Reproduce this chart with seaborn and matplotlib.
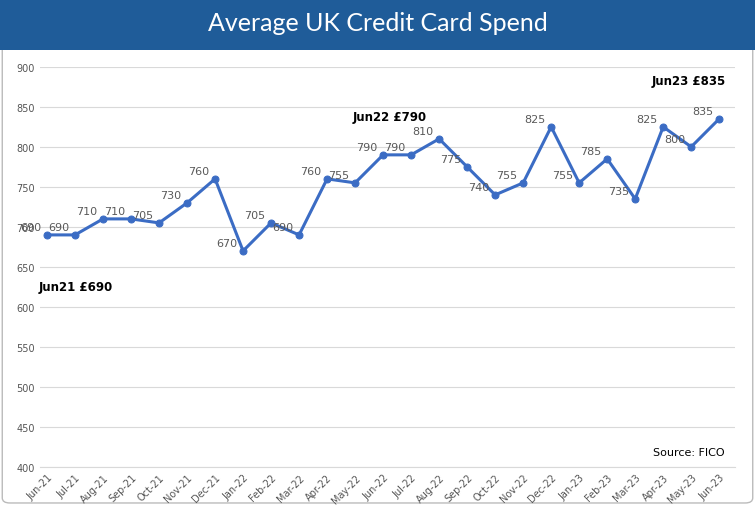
import matplotlib
matplotlib.use("Agg")
import matplotlib.pyplot as plt
import seaborn as sns
import pandas as pd
from matplotlib.patches import FancyBboxPatch, Rectangle

months = ["Jun-21","Jul-21","Aug-21","Sep-21","Oct-21","Nov-21","Dec-21","Jan-22","Feb-22","Mar-22",
          "Apr-22","May-22","Jun-22","Jul-22","Aug-22","Sep-22","Oct-22","Nov-22","Dec-22","Jan-23",
          "Feb-23","Mar-23","Apr-23","May-23","Jun-23"]
spend = [690,690,710,710,705,730,760,670,705,690,760,755,790,790,810,775,740,755,825,755,785,735,825,800,835]
callouts = {0: "Jun21 £690", 12: "Jun22 £790", 24: "Jun23 £835"}

df = pd.DataFrame({"x": range(len(months)), "spend": spend})
fig = plt.figure(figsize=(7.55, 5.06), dpi=100)
fig.patches.append(FancyBboxPatch((0.003, 0.004), 0.994, 0.99, boxstyle="round,pad=0,rounding_size=0.01",
                                  transform=fig.transFigure, fc="white", ec="#BBBBBB", lw=1, zorder=-10))
fig.patches.append(Rectangle((0, 0.9), 1, 0.1, transform=fig.transFigure, fc="#1F5C99", ec="none", zorder=-5))
fig.text(0.5, 0.953, "Average UK Credit Card Spend", ha="center", va="center", color="white", fontsize=18, family="Lato")

ax = fig.add_axes([0.053, 0.075, 0.92, 0.791])
ax.patch.set_alpha(0)
sns.lineplot(data=df, x="x", y="spend", ax=ax, color="#3B6CC4", lw=2.2, marker="o", markersize=5,
             markeredgecolor="#3B6CC4")
ax.set_ylim(400, 900)
ax.set_yticks(range(400, 901, 50))
ax.set_xlim(-0.25, 24.55)
ax.set_xticks(range(len(months)))
ax.set_xticklabels(months, rotation=45, ha="right", rotation_mode="anchor")
ax.tick_params(labelsize=7, colors="#555555", length=0)
ax.grid(axis="y", color="#D9D9D9", lw=0.8)
ax.set_axisbelow(True)
for s in ax.spines.values():
    s.set_visible(False)
ax.spines["bottom"].set_visible(True)
ax.spines["bottom"].set_color("#D9D9D9")
ax.set_xlabel(""); ax.set_ylabel("")
for i, v in enumerate(spend):
    ax.annotate(str(v), (i, v), xytext=(-4, 2), textcoords="offset points", ha="right", va="bottom",
                fontsize=8, color="#595959")
for i, t in callouts.items():
    if i == 0:
        ax.annotate(t, (i, spend[i]), xytext=(-6, -40), textcoords="offset points", ha="left", fontsize=8.5, fontweight="bold")
    else:
        ax.annotate(t, (i, spend[i]), xytext=(5, 25), textcoords="offset points",
                    ha="right" if i == 24 else "center", fontsize=8.5, fontweight="bold")
ax.text(0.985, 0.03, "Source: FICO", transform=ax.transAxes, ha="right", fontsize=8)
fig.savefig("out.png", dpi=100)
